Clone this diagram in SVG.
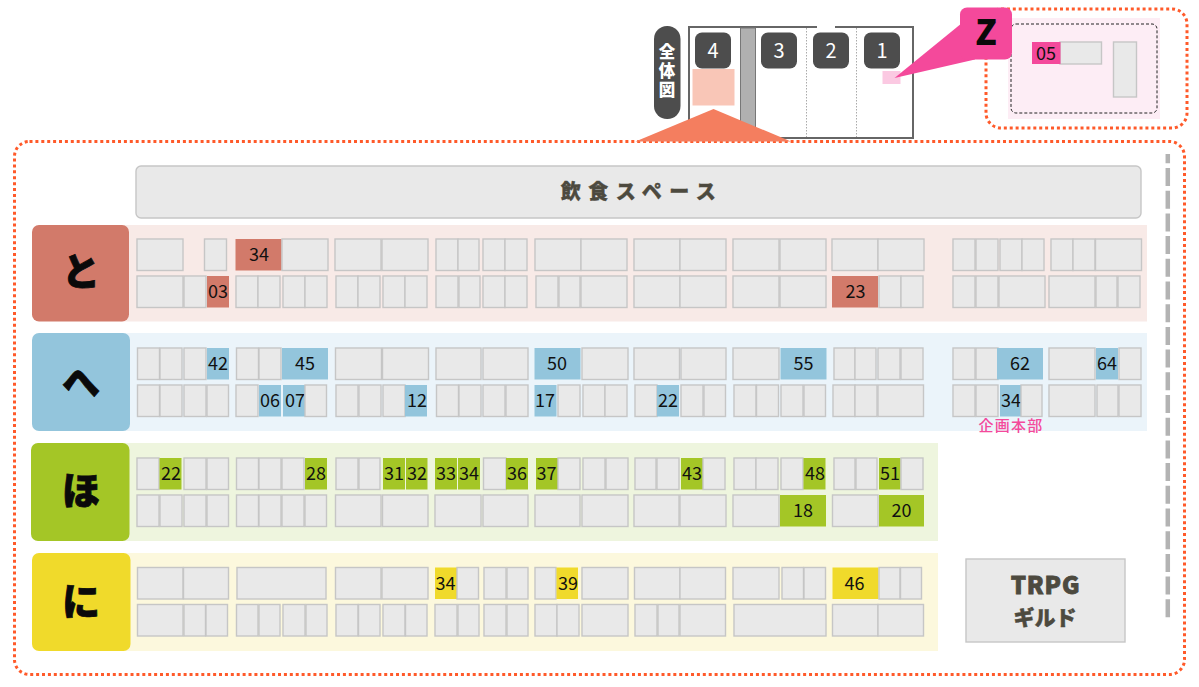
<svg xmlns="http://www.w3.org/2000/svg" width="1199" height="687" viewBox="0 0 1199 687">
<style>
text{font-family:"Noto Sans CJK JP","Noto Sans",sans-serif}
.row rect{height:31.5px;fill:#e9e9e9;stroke:#c6c6c6;stroke-width:1.400}
.row text{font-size:18px;fill:#111;text-anchor:middle}
.row rect.h{stroke:none}
.tolab{fill:#d27a6a}
.helab{fill:#93c5dc}
.holab{fill:#a4c626}
.nilab{fill:#f0da2b}
#to .row rect.h{fill:#d27a6a}
#he .row rect.h{fill:#93c5dc}
#ho .row rect.h{fill:#a4c626}
#ni .row rect.h{fill:#f0da2b}
.lab text{font-size:38px;font-weight:900;fill:#0a0a0a;stroke:#0a0a0a;stroke-width:.8;text-anchor:middle}
.dot{fill:none;stroke:#ff5a2a;stroke-width:3;stroke-dasharray:3 2.900}
.badge rect{fill:#4d4d4d}
.badge text{fill:#fff;font-size:20px;text-anchor:middle}
.cell{fill:#e9e9e9;stroke:#c6c6c6;stroke-width:1.400}
.title{font-weight:900;fill:#4d4a3f;text-anchor:middle}
</style>

<g id="bands">
<rect x="120" y="225" width="1027" height="96.500" fill="#f8eae7"/>
<rect x="120" y="333" width="1027" height="98" fill="#ebf4fa"/>
<rect x="120" y="443" width="818" height="98" fill="#eef5de"/>
<rect x="120" y="553" width="818" height="98" fill="#fcf8dd"/>
</g>

<g id="frames">
<rect class="dot" x="986" y="9" width="201" height="119" rx="15"/>
<rect class="dot" x="14.500" y="141.500" width="1170" height="533" rx="15"/>
<line x1="1167.800" y1="617.300" x2="1167.800" y2="154" stroke="#b3b3b3" stroke-width="4.500" stroke-dasharray="18 4.700"/>
</g>

<g id="overview">
<rect x="654" y="26" width="26.500" height="93" rx="13" fill="#4d4d4d"/>
<text x="667" y="43" writing-mode="vertical-rl" font-size="16.500" font-weight="900" letter-spacing="2.500" fill="#fff">全体図</text>
<path d="M817 27H689V138H913V27H835" fill="#fff" stroke="#666" stroke-width="2"/>
<rect x="740.500" y="28" width="15" height="110" fill="#b0b0b0" stroke="#777" stroke-width="1"/>
<line x1="806.500" y1="28" x2="806.500" y2="137" stroke="#aaa" stroke-width="1" stroke-dasharray="1.500 1.500"/>
<line x1="856.500" y1="28" x2="856.500" y2="137" stroke="#aaa" stroke-width="1" stroke-dasharray="1.500 1.500"/>
<g class="badge" id="hall4"><rect x="695" y="32.500" width="36" height="36" rx="7"/><text x="713" y="57.500">4</text></g>
<g class="badge" id="hall3"><rect x="761" y="32.500" width="36" height="36" rx="7"/><text x="779" y="57.500">3</text></g>
<g class="badge" id="hall2"><rect x="813" y="32.500" width="36" height="36" rx="7"/><text x="831" y="57.500">2</text></g>
<g class="badge" id="hall1"><rect x="864" y="32.500" width="36" height="36" rx="7"/><text x="882" y="57.500">1</text></g>
<rect x="692.500" y="69" width="42" height="36.500" fill="#f9c6b7"/>
<rect x="882.500" y="71" width="18" height="13" fill="#fbc9e2"/>
<path d="M713.500 109L791 141.500H635.500Z" fill="#f47e5f"/>
</g>

<g id="zone-z">
<rect x="1008" y="18" width="152" height="101" fill="#fdedf5"/>
<rect x="1011" y="24" width="146" height="89" rx="5" fill="none" stroke="#222" stroke-dasharray="3 2"/>
<rect class="cell" x="1060" y="42" width="41.500" height="22"/>
<rect x="1032" y="42" width="28.500" height="22" fill="#f4499b"/>
<text x="1046" y="59.500" font-size="18" fill="#111" text-anchor="middle">05</text>
<rect class="cell" x="1113.500" y="42" width="23" height="55"/>
<path d="M962 23L894.500 78L975 59.500Z" fill="#f4499b"/>
<rect x="960" y="7.500" width="52" height="52" rx="7" fill="#f4499b"/>
<text x="986" y="45" font-size="35" font-weight="900" fill="#0a0a0a" text-anchor="middle">Z</text>
</g>

<g id="food">
<rect class="cell" x="136" y="166" width="1005" height="52" rx="5"/>
<text class="title" x="642" y="199" font-size="20" letter-spacing="7.500" stroke="#4d4a3f" stroke-width=".4">飲食スペース</text>
</g>

<g id="labels" class="lab">
<g id="label-to"><rect class="tolab" x="32" y="225" width="97" height="96.500" rx="7"/><text x="81" y="285">と</text></g>
<g id="label-he"><rect class="helab" x="32" y="333" width="98" height="98" rx="7"/><text x="81" y="396">へ</text></g>
<g id="label-ho"><rect class="holab" x="31" y="443" width="98.500" height="98" rx="7"/><text x="81" y="504">ほ</text></g>
<g id="label-ni"><rect class="nilab" x="32" y="553" width="98.500" height="98" rx="7"/><text x="81" y="615">に</text></g>
</g>

<g id="to">
<g class="row" transform="translate(0,239)">
<rect x="137" width="46"/><rect x="204.500" width="22"/><rect class="h" x="235.500" width="46"/><text x="259" y="22">34</text><rect x="282" width="46"/>
<rect x="335" width="46"/><rect x="382" width="46"/><rect x="436" width="22"/><rect x="458" width="21"/><rect x="483" width="22"/><rect x="505" width="22"/>
<rect x="535" width="46"/><rect x="581" width="46"/><rect x="634" width="46"/><rect x="680" width="46"/><rect x="733" width="46"/><rect x="780" width="46"/><rect x="832" width="46"/><rect x="878" width="46"/>
<rect x="953" width="22"/><rect x="976" width="22"/><rect x="1000" width="22"/><rect x="1022" width="22"/><rect x="1051" width="22"/><rect x="1073" width="22"/><rect x="1095.500" width="46"/>
</g>
<g class="row" transform="translate(0,276)">
<rect x="137" width="46"/><rect x="184" width="22"/><rect class="h" x="207" width="22"/><text x="218" y="22">03</text>
<rect x="236" width="22"/><rect x="258" width="22"/><rect x="283" width="22"/><rect x="305" width="22"/><rect x="336" width="22"/><rect x="358" width="22"/><rect x="383" width="22"/><rect x="405" width="22"/>
<rect x="436" width="22"/><rect x="459" width="21"/><rect x="483" width="22"/><rect x="505" width="22"/><rect x="536" width="22"/><rect x="559" width="21"/><rect x="581" width="46"/>
<rect x="634" width="46"/><rect x="680" width="46"/><rect x="733" width="46"/><rect x="780" width="46"/>
<rect class="h" x="832" width="46"/><text x="855.500" y="22">23</text><rect x="879" width="22"/><rect x="901" width="22"/>
<rect x="953" width="22"/><rect x="976" width="22"/><rect x="999" width="46"/><rect x="1049" width="46"/><rect x="1096" width="21"/><rect x="1118" width="22"/>
</g>
</g>

<g id="he">
<g class="row" transform="translate(0,348)">
<rect x="137.500" width="22"/><rect x="160" width="22"/><rect x="184" width="22"/><rect class="h" x="207" width="22"/><text x="218" y="22">42</text>
<rect x="236.500" width="22"/><rect x="259" width="22"/><rect class="h" x="282" width="46"/><text x="305" y="22">45</text>
<rect x="335.500" width="46"/><rect x="382.500" width="46"/><rect x="436" width="45"/><rect x="483" width="45"/>
<rect class="h" x="534.500" width="46"/><text x="557" y="22">50</text><rect x="582" width="46"/>
<rect x="634" width="45.500"/><rect x="681" width="45"/><rect x="733" width="46"/><rect class="h" x="780.500" width="46"/><text x="803.500" y="22">55</text>
<rect x="834" width="21"/><rect x="855" width="21"/><rect x="878" width="22"/><rect x="901" width="22"/>
<rect x="953" width="22"/><rect x="976" width="22"/><rect class="h" x="997" width="46"/><text x="1020" y="22">62</text>
<rect x="1049" width="46"/><rect class="h" x="1096" width="22"/><text x="1107" y="22">64</text><rect x="1119" width="22"/>
</g>
<g class="row" transform="translate(0,385)">
<rect x="137.500" width="22"/><rect x="160" width="22"/><rect x="184" width="22"/><rect x="207" width="21.500"/>
<rect x="236" width="22"/><rect class="h" x="259" width="22"/><text x="270" y="22">06</text><rect class="h" x="283" width="22"/><text x="295" y="22">07</text><rect x="305" width="21.500"/>
<rect x="336" width="22"/><rect x="359" width="22"/><rect x="383" width="22"/><rect class="h" x="405" width="22"/><text x="417" y="22">12</text>
<rect x="436.500" width="22"/><rect x="459" width="22"/><rect x="483" width="22"/><rect x="506" width="22"/>
<rect class="h" x="534.500" width="22"/><text x="545" y="22">17</text><rect x="558" width="22"/><rect x="583" width="22"/><rect x="605" width="22"/>
<rect x="635" width="22"/><rect class="h" x="657" width="22"/><text x="668" y="22">22</text><rect x="681" width="22"/><rect x="704" width="21.500"/>
<rect x="734" width="22"/><rect x="756.500" width="22"/><rect x="781" width="22"/><rect x="804" width="21.500"/>
<rect x="833" width="22"/><rect x="855" width="22"/><rect x="878" width="45.500"/>
<rect x="953" width="22"/><rect x="976" width="22"/><rect class="h" x="1000" width="21"/><text x="1011" y="22">34</text><rect x="1021" width="21"/>
<rect x="1049" width="46"/><rect x="1097" width="21"/><rect x="1119" width="22"/>
</g>
<text x="1011" y="430.500" font-size="15" font-weight="500" letter-spacing="1.300" fill="#f4499b" text-anchor="middle">企画本部</text>
</g>

<g id="ho">
<g class="row" transform="translate(0,458)">
<rect x="137" width="22"/><rect class="h" x="159.500" width="22"/><text x="171" y="22">22</text><rect x="184" width="22"/><rect x="207" width="21.500"/>
<rect x="236.500" width="22"/><rect x="259" width="22"/><rect x="282" width="22"/><rect class="h" x="305" width="22"/><text x="316" y="22">28</text>
<rect x="336" width="22"/><rect x="359" width="21"/><rect class="h" x="383" width="22"/><text x="394" y="22">31</text><rect class="h" x="406" width="21.500"/><text x="417" y="22">32</text>
<rect class="h" x="435" width="22"/><text x="446" y="22">33</text><rect class="h" x="458" width="22"/><text x="469" y="22">34</text><rect x="483.500" width="22.500"/><rect class="h" x="506" width="22"/><text x="517" y="22">36</text>
<rect class="h" x="536" width="22"/><text x="546.500" y="22">37</text><rect x="558" width="22"/><rect x="583" width="22"/><rect x="606" width="22"/>
<rect x="635" width="21"/><rect x="657" width="22"/><rect class="h" x="681" width="22"/><text x="692" y="22">43</text><rect x="703" width="22"/>
<rect x="734" width="22"/><rect x="756" width="22"/><rect x="781" width="22"/><rect class="h" x="803.500" width="22"/><text x="815" y="22">48</text>
<rect x="834" width="21"/><rect x="856" width="21"/><rect class="h" x="879" width="21.500"/><text x="890" y="22">51</text><rect x="901" width="22"/>
</g>
<g class="row" transform="translate(0,495)">
<rect x="137" width="22"/><rect x="160" width="22"/><rect x="184" width="22"/><rect x="207" width="21.500"/>
<rect x="236.500" width="22"/><rect x="259" width="22"/><rect x="282" width="22"/><rect x="305" width="21.500"/>
<rect x="335.500" width="45.500"/><rect x="382.500" width="45.500"/><rect x="435" width="46"/><rect x="483" width="45"/>
<rect x="535" width="45"/><rect x="582" width="46"/><rect x="634" width="45"/><rect x="680" width="46"/>
<rect x="733" width="46"/><rect class="h" x="780" width="46"/><text x="803" y="22">18</text>
<rect x="832.500" width="45.500"/><rect class="h" x="879" width="45"/><text x="901.500" y="22">20</text>
</g>
</g>

<g id="ni">
<g class="row" transform="translate(0,567.500)">
<rect x="137.500" width="45.500"/><rect x="183.500" width="45"/><rect x="237" width="89"/>
<rect x="335.500" width="45.500"/><rect x="382" width="46"/>
<rect class="h" x="435" width="22"/><text x="445.500" y="22">34</text><rect x="457" width="21.500"/><rect x="484" width="22"/><rect x="507" width="21"/>
<rect x="535" width="21"/><rect class="h" x="556.500" width="21.500"/><text x="568" y="22">39</text><rect x="582" width="46"/>
<rect x="634.500" width="45.500"/><rect x="680" width="45.500"/><rect x="733" width="46"/><rect x="782" width="21.500"/><rect x="804" width="21.500"/>
<rect class="h" x="832.500" width="46"/><text x="854.500" y="22">46</text><rect x="879" width="21"/><rect x="900.500" width="21"/>
</g>
<g class="row" transform="translate(0,604.500)">
<rect x="137.500" width="45.500"/><rect x="184" width="21.500"/><rect x="206" width="21.500"/>
<rect x="236.500" width="21.500"/><rect x="259" width="21"/><rect x="283" width="22"/><rect x="306" width="21"/>
<rect x="336" width="22"/><rect x="358.500" width="21.500"/><rect x="383" width="22"/><rect x="405.500" width="21.500"/>
<rect x="435" width="22"/><rect x="458" width="21"/><rect x="484" width="22"/><rect x="507" width="21"/>
<rect x="535" width="22"/><rect x="557" width="22"/><rect x="582" width="46"/>
<rect x="635" width="22"/><rect x="658" width="21"/><rect x="680" width="45.500"/><rect x="734" width="92"/>
<rect x="832.500" width="45.500"/><rect x="878" width="45.500"/>
</g>
</g>

<g id="trpg">
<rect class="cell" x="966" y="559" width="159" height="83"/>
<text class="title" x="1045.500" y="594" font-size="24" letter-spacing="0.800" stroke="#4d4a3f" stroke-width="0.800">TRPG</text>
<text class="title" x="1045" y="625" font-size="21" stroke="#4d4a3f" stroke-width="0.500">ギルド</text>
</g>
</svg>
